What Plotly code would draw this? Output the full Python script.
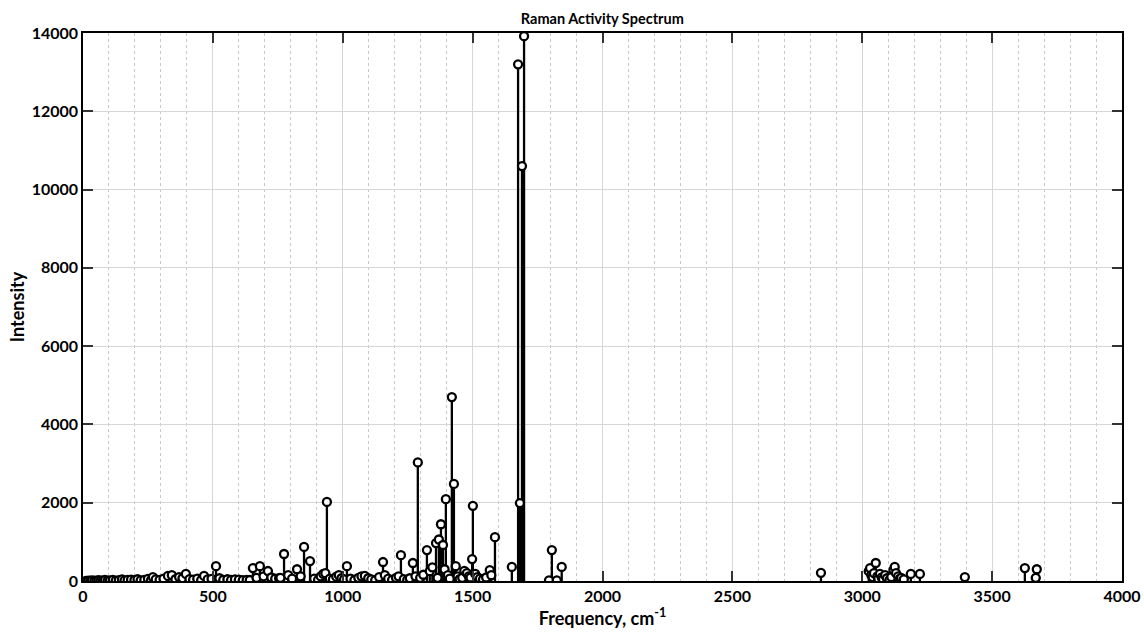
import plotly.graph_objects as go

# Raman modes: frequency (cm^-1) and activity (intensity)
freq_low = [12, 20, 28, 35, 44, 52, 60, 68, 77, 85, 95, 104, 115, 126, 138, 150, 160, 172, 185, 198,
            210, 222, 236, 250, 262, 269, 280, 295, 310, 327, 342, 356, 370, 383, 396, 410, 424, 440,
            455, 466, 480, 495, 512, 525, 540, 556, 570, 585, 600, 615, 630, 642, 654, 668, 681, 695,
            712, 725, 740, 755]
int_low = [5, 10, 8, 15, 6, 12, 20, 9, 14, 25, 10, 18, 30, 12, 22, 40, 15, 28, 35, 20,
           45, 18, 30, 55, 25, 100, 40, 30, 60, 130, 150, 45, 100, 70, 180, 50, 35, 60,
           25, 130, 40, 55, 380, 70, 30, 45, 25, 40, 35, 20, 30, 25, 330, 80, 380, 120,
           255, 90, 60, 70]

freq_mid = [760, 774, 790, 805, 824, 838, 851, 874, 890, 905, 915, 925, 933, 939, 950, 962, 975, 985,
            995, 1005, 1016, 1030, 1045, 1060, 1072, 1085, 1098, 1110, 1125, 1140, 1155, 1162, 1175,
            1190, 1205, 1215, 1224, 1235, 1248, 1258, 1270, 1280, 1289, 1298, 1310, 1324, 1335, 1345,
            1359, 1365, 1370, 1378, 1386, 1392, 1397, 1405, 1412, 1420, 1428, 1435, 1442, 1450, 1460,
            1468, 1478, 1485, 1492, 1498, 1501, 1510, 1518, 1528, 1540, 1552, 1566, 1572, 1586]
int_mid = [80, 690, 150, 60, 300, 120, 870, 510, 60, 30, 120, 180, 200, 2020, 60, 40, 110, 150,
           70, 40, 380, 60, 25, 80, 120, 130, 70, 40, 20, 100, 485, 150, 60,
           30, 80, 120, 660, 50, 20, 70, 460, 120, 3030, 80, 160, 790, 250, 350,
           970, 80, 1060, 1450, 920, 300, 2090, 150, 60, 4700, 2480, 380, 120, 50, 80,
           260, 200, 120, 90, 560, 1920, 180, 100, 60, 40, 90, 280, 150, 1120]

freq_high = [1651, 1675, 1682, 1690, 1698, 1794, 1805, 1824, 1843, 2841,
             3025, 3030, 3035, 3040, 3045, 3052, 3058, 3062, 3068, 3075, 3080, 3088, 3095, 3105,
             3112, 3120, 3125, 3130, 3138, 3145, 3150, 3160, 3187, 3222, 3395, 3626, 3668, 3672]
int_high = [360, 13200, 1990, 10600, 13920, 15, 790, 15, 360, 210,
            250, 330, 150, 100, 200, 460, 120, 60, 180, 90, 40, 150, 70, 30,
            100, 280, 360, 200, 120, 60, 80, 40, 180, 180, 100, 330, 80, 300]

freqs = freq_low + freq_mid + freq_high
ints = int_low + int_mid + int_high

x_ticks = [0, 500, 1000, 1500, 2000, 2500, 3000, 3500, 4000]
y_ticks = [0, 2000, 4000, 6000, 8000, 10000, 12000, 14000]

stem_x, stem_y = [], []
for f, v in zip(freqs, ints):
    stem_x += [f, f, None]
    stem_y += [0, v, None]

FONT = "Lato"

fig = go.Figure()
fig.add_trace(go.Scatter(x=stem_x, y=stem_y, mode="lines",
                         line=dict(color="black", width=2.3), hoverinfo="skip", showlegend=False))
fig.add_trace(go.Scatter(x=freqs, y=ints, mode="markers",
                         marker=dict(symbol="circle", size=8, color="white",
                                     line=dict(color="black", width=2.3)),
                         showlegend=False))

fig.update_layout(
    width=1144, height=633,
    margin=dict(l=83, r=22, t=33, b=52, autoexpand=False),
    paper_bgcolor="white", plot_bgcolor="white",
    title=dict(text="<b>Raman Activity Spectrum</b>", x=0.5265, xanchor="center",
               y=0.97, yanchor="middle",
               font=dict(family=FONT, size=14.5, color="black")),
    font=dict(family=FONT, color="black"),
)
fig.update_xaxes(
    range=[0, 4000], tickmode="array", tickvals=x_ticks,
    ticktext=[f"<b>{t}</b>" for t in x_ticks],
    tickfont=dict(family=FONT, size=16, color="black"),
    ticks="inside", ticklen=10, tickwidth=1.5, tickcolor="#333",
    showline=True, linecolor="black", linewidth=1.5, mirror="allticks",
    showgrid=True, gridcolor="#d6d6d6", gridwidth=1.2,
    minor=dict(dtick=100, showgrid=True, gridcolor="#c8c8c8", griddash="dot", gridwidth=1, ticks=""),
    zeroline=False, automargin=False,
    title=dict(text="<b>Frequency, cm<sup>-1</sup></b>", font=dict(family=FONT, size=18, color="black"),
               standoff=4),
)
fig.update_yaxes(
    range=[0, 14000], tickmode="array", tickvals=y_ticks,
    ticktext=[f"<b>{t}</b>" for t in y_ticks],
    tickfont=dict(family=FONT, size=16, color="black"),
    ticks="inside", ticklen=10, tickwidth=1.5, tickcolor="#333",
    showline=True, linecolor="black", linewidth=1.5, mirror="allticks",
    showgrid=True, gridcolor="#d6d6d6", gridwidth=1.2,
    zeroline=False, automargin=False,
    title=dict(text="<b>Intensity</b>", font=dict(family=FONT, size=18, color="black"), standoff=2),
)

fig.write_html("out.html")
